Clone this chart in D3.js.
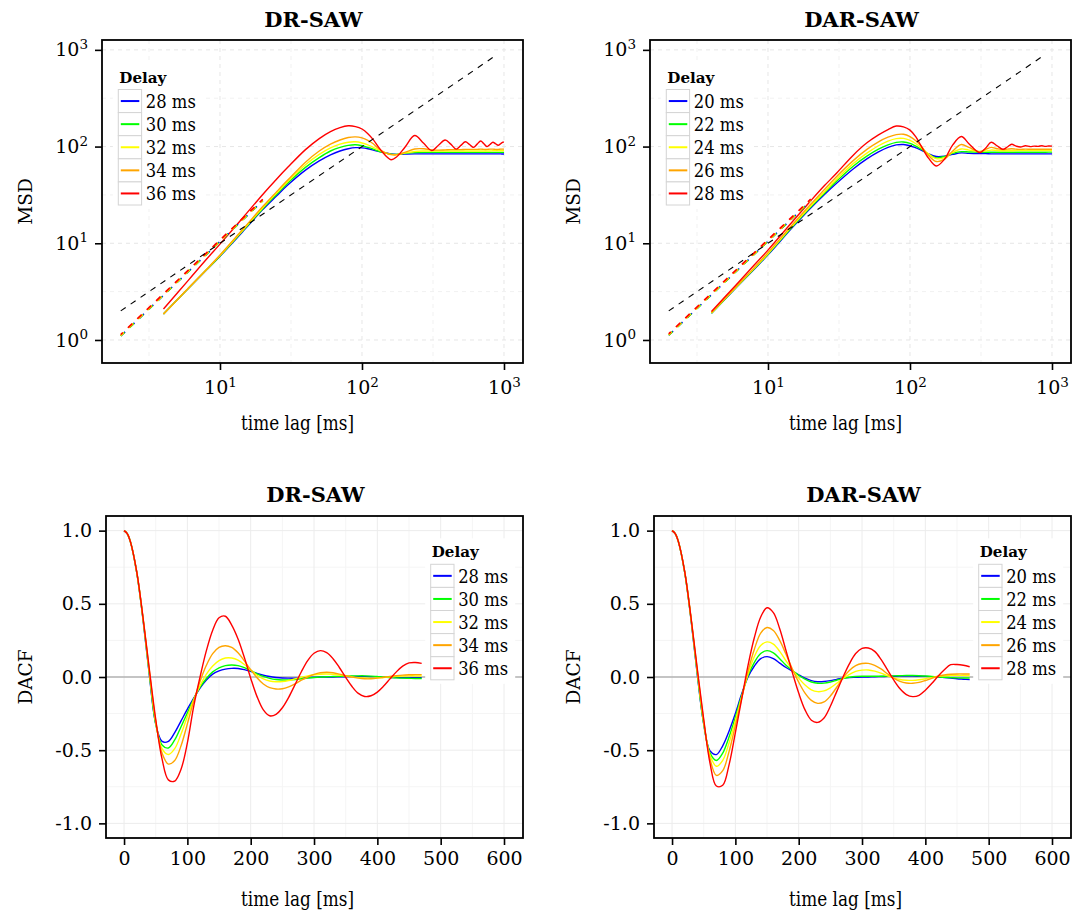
<!DOCTYPE html>
<html><head><meta charset="utf-8">
<script src="https://cdn.jsdelivr.net/npm/d3@7"></script>
<style>body{margin:0;background:#fff}</style>
</head><body>
<svg id="c" width="1086" height="915"></svg>
<script>
// ---------------- DATA ----------------
const seriesColors = ["#0000FF", "#00FF00", "#FFFF00", "#FFA500", "#FF0000"];
const drDelays = ["28 ms", "30 ms", "32 ms", "34 ms", "36 ms"];
const darDelays = ["20 ms", "22 ms", "24 ms", "26 ms", "28 ms"];
const panelTitles = ["DR-SAW", "DAR-SAW"];

// MSD (top panels)
const drLag = [4,6,8,10,15,20,25,30,40,50,60,70,80,90,100,110,120,130,140,150,160,175,200,235,272,310,347,385,422,460,497,535,572,610,647,685,722,760,797,835,872,910,947,985,1000];
const drMsd = [
  [1.86,3.42,5.26,7.35,14.0,22.3,30.8,40,57,71,82,90,95,97.5,97,95,92,89.5,87.5,85.5,84,83,83.5,84,84,84,84,84,84,84,84,84,84,84,84,84,84,84,84,84,84,84,84,83.8,83.8],
  [1.86,3.42,5.28,7.4,14.3,22.8,32,42,61,77,90,98,103,104.5,102,98,94,90,87,85,83.5,83,85,86.5,87,87,87,87,87,87,87,87,87,87,87,87,87,87,87,87,87,87,87,87,87],
  [1.86,3.43,5.3,7.45,14.5,23.3,33,43.5,65,83,97,106,111,112,109,104,98,93,88,85,83,82.5,85.5,89,90,90,90,90,90,90,90,90,90,90,90,90,90,90,90,90.5,90.5,90.5,90.5,90.5,90.5],
  [1.86,3.44,5.33,7.55,14.8,24,34,45,69,90,106,117,124,126,123,116,107,96,89,85,82.5,82,87,94.5,95,92.5,92,92.5,93,93,93,93.5,93.5,93.5,93.5,94,93.5,93.5,94,94,93.5,93.5,94,94,94],
  [2.09,4.16,6.79,9.8,19.5,32,46,61,93,121,143,157,164,161,152,136,118,100,87,78,73,78,98,130,108,91,104,117,106,94,103,112,105,98,106,114,107,100,105,111,107,103,107,111,111]
];
const darLag = [4,6,8,10,15,20,25,30,40,50,60,70,80,90,100,110,120,135,153,175,200,230,260,310,340,373,410,451,485,520,560,600,650,700,750,800,850,900,950,1000];
const darMsd = [
  [1.89,3.5,5.4,7.6,14.8,23.2,32,41,59,75,88,98,104,105,102,97,92,84,79,79.5,83,86,85,84.5,84.5,84,84,84,84,84,84,84,84,84,84,84,84,84,84,84],
  [1.89,3.52,5.45,7.7,15.1,23.7,33,43,63,80,94,104,110.5,111.5,108,101,94,83,76.5,79,85,88.6,88,87.5,87.5,87.5,87.5,87.5,87.5,87.5,87.5,87.5,87.5,87.5,87.5,87.5,87.5,87.5,87.6,87.6],
  [1.9,3.55,5.5,7.8,15.4,24.3,34,45,67,86,102,114,121,121.5,116,107,97,84,75,77,87,94.5,92,89,90,92,91,90.5,90.5,90.5,90.7,90.7,90.7,90.7,90.7,90.7,90.7,90.7,90.7,90.7],
  [1.92,3.6,5.6,8.0,15.8,25.3,36,48,72,94,112,125,133,134,127,115,101,81,70,74,90,105,98,88.6,93,98,95,93,94,95,94,93.5,94,93.8,93.8,93.8,93.8,93.8,93.8,93.8],
  [1.97,3.75,5.95,8.5,17,27.5,39.5,52,82,110,132,150,163,160,148,126,101,76,63,74,104,127,107,86.5,96,111,102,93.8,99,105.6,101,99,102,100,101,100.5,102,100.5,101.5,101]
];
const fitLag = [2, 20];
const drFitMsd = [[1.10,27.5],[1.10,27.5],[1.11,27.7],[1.12,28],[1.14,28.5]];
const darFitMsd = [[1.12,27.5],[1.12,27.5],[1.13,27.8],[1.14,28],[1.16,28.6]];
const diffLag = [2, 890];
const diffMsd = [2, 890];
const msdTickValues = [10, 100, 1000];
const msdYTickValues = [1, 10, 100, 1000];

// DACF (bottom panels)
const dacfLag = [0,5,10,20,30,40,50,60,70,80,90,100,110,120,130,140,150,160,170,180,190,200,210,220,230,240,250,260,270,280,290,300,310,320,330,340,350,360,370,380,390,400,410,420,430,440,450,460,470];
const drDacf = [
  [1.0,.98,.925,.715,.39,.01,-.32,-.44,-.44,-.38,-.30,-.22,-.145,-.075,-.02,.02,.042,.054,.059,.058,.05,.038,.024,.012,.003,-.003,-.007,-.008,-.008,-.006,-.004,-.002,0,0,0,.001,.002,.003,.003,.003,.002,0,-.002,-.003,-.004,-.005,-.005,-.005,-.005],
  [1.0,.98,.925,.715,.395,.02,-.32,-.465,-.485,-.43,-.34,-.245,-.15,-.07,-.01,.035,.063,.078,.082,.078,.064,.044,.022,.004,-.009,-.017,-.02,-.02,-.017,-.012,-.007,-.003,0,.002,.003,.004,.006,.007,.008,.008,.006,.003,0,-.003,-.006,-.008,-.009,-.01,-.01],
  [1.0,.98,.925,.715,.40,.03,-.31,-.49,-.53,-.49,-.39,-.27,-.155,-.06,.02,.075,.112,.13,.13,.115,.085,.048,.012,-.013,-.027,-.032,-.031,-.024,-.013,-.002,.008,.015,.019,.02,.018,.013,.007,.001,-.004,-.007,-.008,-.006,-.003,.001,.004,.007,.008,.008,.007],
  [1.0,.98,.925,.72,.40,.04,-.30,-.52,-.595,-.57,-.47,-.32,-.165,-.03,.08,.16,.203,.214,.202,.165,.11,.05,-.005,-.048,-.073,-.082,-.08,-.067,-.047,-.022,0,.018,.029,.032,.029,.02,.009,-.001,-.008,-.012,-.012,-.008,-.002,.004,.009,.013,.015,.016,.016],
  [1.0,.98,.925,.72,.405,.05,-.29,-.56,-.703,-.711,-.63,-.45,-.2,0,.18,.32,.405,.415,.355,.26,.133,-.008,-.134,-.225,-.265,-.255,-.21,-.139,-.052,.036,.112,.162,.18,.166,.125,.065,-.002,-.065,-.112,-.133,-.128,-.103,-.062,-.013,.035,.074,.096,.099,.093]
];
const darDacf = [
  [1.0,.98,.925,.715,.39,.01,-.32,-.505,-.53,-.47,-.37,-.25,-.115,0,.075,.125,.139,.125,.095,.065,.04,.015,-.008,-.025,-.032,-.031,-.025,-.016,-.008,-.004,-.002,0,0,.002,.003,.004,.005,.006,.006,.006,.005,.004,.002,0,-.004,-.008,-.012,-.015,-.018],
  [1.0,.98,.925,.715,.395,.02,-.32,-.52,-.57,-.52,-.41,-.275,-.125,.01,.1,.16,.18,.165,.125,.08,.045,.012,-.015,-.034,-.043,-.042,-.034,-.022,-.01,-.002,.003,.005,.005,.005,.005,.006,.008,.009,.01,.01,.009,.007,.004,.001,-.002,-.004,-.006,-.007,-.007],
  [1.0,.98,.925,.715,.40,.03,-.31,-.535,-.61,-.57,-.45,-.30,-.135,.02,.14,.215,.24,.225,.175,.11,.05,-.008,-.055,-.088,-.10,-.095,-.074,-.043,-.01,.018,.038,.047,.048,.04,.026,.009,-.006,-.017,-.022,-.023,-.019,-.012,-.004,.003,.008,.011,.012,.011,.01],
  [1.0,.98,.925,.72,.40,.04,-.30,-.56,-.672,-.64,-.51,-.33,-.145,.04,.19,.30,.338,.318,.25,.155,.055,-.035,-.11,-.16,-.18,-.17,-.13,-.07,-.005,.045,.077,.092,.093,.08,.055,.022,-.008,-.03,-.041,-.043,-.037,-.024,-.009,.005,.014,.019,.021,.021,.02],
  [1.0,.98,.925,.72,.405,.05,-.29,-.59,-.745,-.74,-.60,-.38,-.15,.08,.27,.41,.473,.44,.33,.18,.03,-.11,-.225,-.295,-.31,-.28,-.20,-.10,0,.09,.16,.195,.198,.175,.12,.05,-.02,-.08,-.12,-.134,-.125,-.09,-.045,.005,.05,.084,.085,.08,.07]
];
const dacfXTicks = [0,100,200,300,400,500,600];
const dacfXMinor = [50,150,250,350,450,550];
const dacfYTicks = [-1,-0.5,0,0.5,1];
const dacfYMinor = [-0.75,-0.25,0.25,0.75];
const dacfYLabels = ["-1.0","-0.5","0.0","0.5","1.0"];

// ---------------- DRAWING ----------------
const FONT = "'DejaVu Serif', serif";
const svg = d3.select("#c");
svg.append("rect").attr("width",1086).attr("height",915).attr("fill","#fff");

function clip(id, x0, y0, x1, y1) {
  svg.append("clipPath").attr("id", id).append("rect")
    .attr("x", x0).attr("y", y0).attr("width", x1 - x0).attr("height", y1 - y0);
}

function legend(g, keyX, titleY, labels) {
  const rowH = 23.1, firstTop = titleY + 7;
  g.append("rect").attr("x", keyX - 5.5).attr("y", titleY - 19)
    .attr("width", 90).attr("height", 7 + 19 + rowH * 5 + 4).attr("fill", "#fff");
  g.append("text").attr("x", keyX + 1).attr("y", titleY).text("Delay")
    .attr("font-family", FONT).attr("font-weight", "bold").attr("font-size", 15)
    .attr("textLength", 47).attr("lengthAdjust", "spacingAndGlyphs");
  labels.forEach((lab, i) => {
    const ry = firstTop + i * rowH;
    g.append("rect").attr("x", keyX).attr("y", ry).attr("width", 23.3).attr("height", rowH)
      .attr("fill", "#fff").attr("stroke", "#d4d4d4").attr("stroke-width", 1);
    g.append("line").attr("x1", keyX + 2.5).attr("x2", keyX + 21).attr("y1", ry + rowH / 2).attr("y2", ry + rowH / 2)
      .attr("stroke", seriesColors[i]).attr("stroke-width", 2);
    g.append("text").attr("x", keyX + 27.5).attr("y", ry + 18.2).text(lab)
      .attr("font-family", FONT).attr("font-size", 18)
      .attr("textLength", 50).attr("lengthAdjust", "spacingAndGlyphs");
  });
}

function axisStyle(g) {
  g.attr("font-family", FONT).attr("font-size", 19);
  g.select(".domain").remove();
  g.selectAll(".tick line").attr("stroke", "#000").attr("stroke-width", 1.6);
  g.selectAll(".tick text").attr("fill", "#000");
}

function supFormat(sel) {
  sel.selectAll(".tick text").each(function(d) {
    const t = d3.select(this);
    t.text(null);
    t.append("tspan").text("10");
    t.append("tspan").attr("dy", "-0.55em").attr("font-size", "13.5px").text(Math.round(Math.log10(d)));
  });
}

function axisTitle(g, cx, y, txt) {
  g.append("text").attr("x", cx).attr("y", y).attr("text-anchor", "middle")
    .attr("font-family", FONT).attr("font-size", 19.5)
    .attr("textLength", 113).attr("lengthAdjust", "spacingAndGlyphs").text(txt);
}

function msdPanel(ox, lag, msd, fit, labels, title, idx) {
  const x0 = 102 + ox, x1 = 523 + ox, y0 = 40, y1 = 363;
  const x = d3.scaleLog().domain([1.476, 1361]).range([x0, x1]);
  const y = d3.scaleLog().domain([0.578, 1265]).range([y1, y0]);
  const g = svg.append("g");
  clip("cm" + idx, x0, y0, x1, y1);
  const gx = [Math.sqrt(10), 10, Math.sqrt(1000), 100, Math.sqrt(100000), 1000];
  const gy = [1, Math.sqrt(10), 10, Math.sqrt(1000), 100, Math.sqrt(100000), 1000];
  gx.forEach((v, i) => g.append("line").attr("x1", x(v)).attr("x2", x(v)).attr("y1", y0).attr("y2", y1)
    .attr("stroke", i % 2 ? "#e6e6e6" : "#f1f1f1").attr("stroke-width", 1).attr("stroke-dasharray", "4,4"));
  gy.forEach((v, i) => g.append("line").attr("y1", y(v)).attr("y2", y(v)).attr("x1", x0).attr("x2", x1)
    .attr("stroke", i % 2 ? "#f1f1f1" : "#e6e6e6").attr("stroke-width", 1).attr("stroke-dasharray", "4,4"));
  const cg = g.append("g").attr("clip-path", "url(#cm" + idx + ")");
  const line = d3.line().x(d => x(d[0])).y(d => y(d[1])).curve(d3.curveCatmullRom.alpha(0.5));
  msd.forEach((vals, s) => {
    cg.append("path").attr("d", line(lag.map((l, k) => [l, vals[k]])))
      .attr("fill", "none").attr("stroke", seriesColors[s]).attr("stroke-width", 1.4);
  });
  fit.forEach((vals, s) => {
    cg.append("path").attr("d", d3.line().x(d => x(d[0])).y(d => y(d[1]))(fitLag.map((l, k) => [l, vals[k]])))
      .attr("fill", "none").attr("stroke", seriesColors[s]).attr("stroke-width", 1.6)
      .attr("stroke-dasharray", "6,7").attr("stroke-dashoffset", s * 0.8);
  });
  cg.append("path").attr("d", d3.line().x(d => x(d[0])).y(d => y(d[1]))(diffLag.map((l, k) => [l, diffMsd[k]])))
    .attr("fill", "none").attr("stroke", "#000").attr("stroke-width", 1.1).attr("stroke-dasharray", "6,6");
  legend(g, 118.3 + ox, 82.5, labels);
  g.append("rect").attr("x", x0).attr("y", y0).attr("width", x1 - x0).attr("height", y1 - y0)
    .attr("fill", "none").attr("stroke", "#000").attr("stroke-width", 1.8);
  const ax = g.append("g").attr("transform", `translate(0,${y1})`)
    .call(d3.axisBottom(x).tickValues(msdTickValues).tickSize(7).tickPadding(11));
  axisStyle(ax); supFormat(ax);
  const ay = g.append("g").attr("transform", `translate(${x0},0)`)
    .call(d3.axisLeft(y).tickValues(msdYTickValues).tickSize(7).tickPadding(7));
  axisStyle(ay); supFormat(ay);
  axisTitle(g, 297.5 + ox, 430, "time lag [ms]");
  g.append("text").attr("transform", `translate(${32 + ox},${(y0 + y1) / 2}) rotate(-90)`).attr("text-anchor", "middle")
    .attr("font-family", FONT).attr("font-size", 18.5).text("MSD");
  g.append("text").attr("x", (x0 + x1) / 2 + 1).attr("y", 27).attr("text-anchor", "middle")
    .attr("font-family", FONT).attr("font-weight", "bold").attr("font-size", 21).text(title);
}

function dacfPanel(ox, vals, labels, title, idx) {
  const x0 = 106 + ox, x1 = 523 + ox, y0 = 516, y1 = 838;
  const x = d3.scaleLinear().domain([-28.5, 630]).range([x0, x1]);
  const y = d3.scaleLinear().domain([-1.1, 1.1]).range([y1, y0]);
  const g = svg.append("g");
  clip("cd" + idx, x0, y0, x1, y1);
  dacfXMinor.forEach(v => g.append("line").attr("x1", x(v)).attr("x2", x(v)).attr("y1", y0).attr("y2", y1).attr("stroke", "#f5f5f5"));
  dacfYMinor.forEach(v => g.append("line").attr("y1", y(v)).attr("y2", y(v)).attr("x1", x0).attr("x2", x1).attr("stroke", "#f5f5f5"));
  dacfXTicks.forEach(v => g.append("line").attr("x1", x(v)).attr("x2", x(v)).attr("y1", y0).attr("y2", y1).attr("stroke", "#ececec"));
  dacfYTicks.forEach(v => g.append("line").attr("y1", y(v)).attr("y2", y(v)).attr("x1", x0).attr("x2", x1).attr("stroke", "#ececec"));
  g.append("line").attr("x1", x0).attr("x2", x1).attr("y1", y(0)).attr("y2", y(0)).attr("stroke", "#b3b3b3").attr("stroke-width", 1.6);
  const cg = g.append("g").attr("clip-path", "url(#cd" + idx + ")");
  const line = d3.line().x(d => x(d[0])).y(d => y(d[1])).curve(d3.curveCatmullRom.alpha(0.5));
  vals.forEach((v, s) => {
    cg.append("path").attr("d", line(dacfLag.map((l, k) => [l, v[k]])))
      .attr("fill", "none").attr("stroke", seriesColors[s]).attr("stroke-width", 1.4);
  });
  legend(g, 430.7 + ox, 557.3, labels);
  g.append("rect").attr("x", x0).attr("y", y0).attr("width", x1 - x0).attr("height", y1 - y0)
    .attr("fill", "none").attr("stroke", "#000").attr("stroke-width", 1.8);
  const ax = g.append("g").attr("transform", `translate(0,${y1})`)
    .call(d3.axisBottom(x).tickValues(dacfXTicks).tickFormat(d3.format("d")).tickSize(7).tickPadding(7));
  axisStyle(ax);
  const ay = g.append("g").attr("transform", `translate(${x0},0)`)
    .call(d3.axisLeft(y).tickValues(dacfYTicks).tickFormat((d, i) => dacfYLabels[i]).tickSize(7).tickPadding(7));
  axisStyle(ay);
  axisTitle(g, 297.5 + ox, 906, "time lag [ms]");
  g.append("text").attr("transform", `translate(${32 + ox},${(y0 + y1) / 2}) rotate(-90)`).attr("text-anchor", "middle")
    .attr("font-family", FONT).attr("font-size", 18.5).text("DACF");
  g.append("text").attr("x", (x0 + x1) / 2 + 1).attr("y", 502).attr("text-anchor", "middle")
    .attr("font-family", FONT).attr("font-weight", "bold").attr("font-size", 21).text(title);
}

msdPanel(0, drLag, drMsd, drFitMsd, drDelays, panelTitles[0], 0);
msdPanel(548, darLag, darMsd, darFitMsd, darDelays, panelTitles[1], 1);
dacfPanel(0, drDacf, drDelays, panelTitles[0], 2);
dacfPanel(548, darDacf, darDelays, panelTitles[1], 3);
</script>
</body></html>
